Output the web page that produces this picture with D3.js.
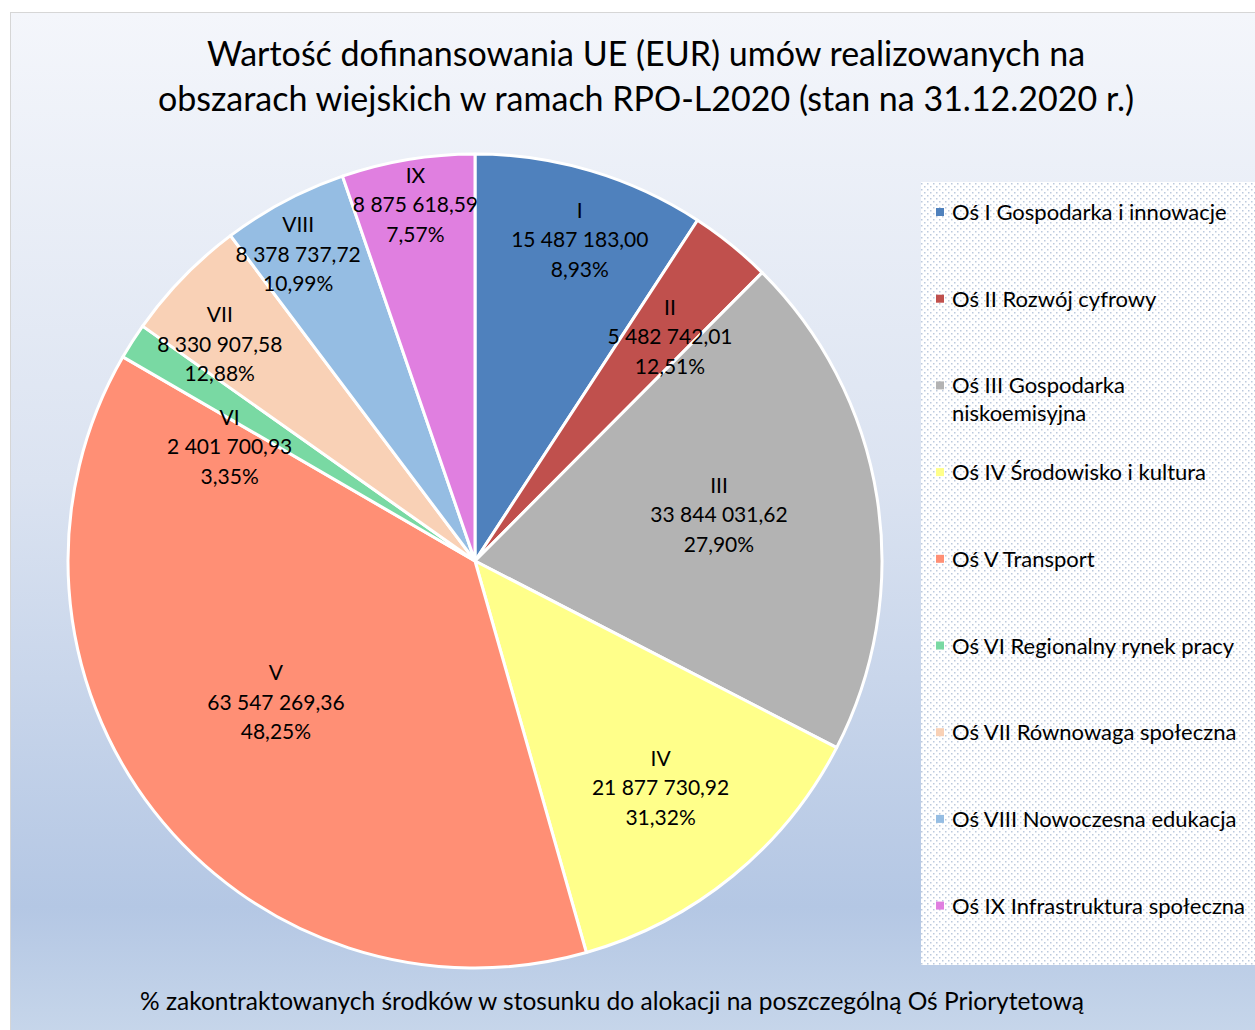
<!DOCTYPE html>
<html>
<head>
<meta charset="utf-8">
<style>
    body { margin: 0; background: #fff; }
    text { font-family: Lato, "Open Sans", sans-serif; fill: #000; }
</style>
</head>
<body>
<svg id="chart" width="1255" height="1030"></svg>
<script src="https://cdn.jsdelivr.net/npm/d3@7"></script>
<script>
// data
const axes = ["I", "II", "III", "IV", "V", "VI", "VII", "VIII", "IX"]
const values = [15487183.00, 5482742.01, 33844031.62, 21877730.92, 63547269.36, 2401700.93, 8330907.58, 8378737.72, 8875618.59]
const percents = ["8,93%", "12,51%", "27,90%", "31,32%", "48,25%", "3,35%", "12,88%", "10,99%", "7,57%"]
const legendNames = [
    ["Oś I Gospodarka i innowacje"],
    ["Oś II Rozwój cyfrowy"],
    ["Oś III Gospodarka", "niskoemisyjna"],
    ["Oś IV Środowisko i kultura"],
    ["Oś V Transport"],
    ["Oś VI Regionalny rynek pracy"],
    ["Oś VII Równowaga społeczna"],
    ["Oś VIII Nowoczesna edukacja"],
    ["Oś IX Infrastruktura społeczna"]
]
const colors = ["#4f81bd", "#c0504d", "#b3b3b3", "#ffff8a", "#ff8f75", "#79d9a3", "#f9d1b6", "#95bde3", "#e07fe0"]

// label placement (fraction of radius, angle shift in degrees) - mimics Excel best fit
const labelR = [0.83, 0.73, 0.61, 0.72, 0.60, 0.665, 0.823, 0.87, 0.887]
const labelShift = [1.5, 2, -1.8, 0, 2.5, -7.7, -3.8, -2, 0]

const plFormat = d3.formatLocale({ decimal: ",", thousands: " ", grouping: [3] }).format(",.2f")

const svg = d3.select("#chart")
const defs = svg.append("defs")

// background gradient
let grad = defs.append("linearGradient").attr("id", "bg").attr("x1", 0).attr("y1", 0).attr("x2", 0).attr("y2", 1)
grad.append("stop").attr("offset", "0%").attr("stop-color", "#f4f6fb")
grad.append("stop").attr("offset", "45%").attr("stop-color", "#dbe3f1")
grad.append("stop").attr("offset", "86%").attr("stop-color", "#b4c7e4")
grad.append("stop").attr("offset", "100%").attr("stop-color", "#c9d8eb")

// dotted legend pattern
let pat = defs.append("pattern").attr("id", "dots").attr("patternUnits", "userSpaceOnUse")
    .attr("width", 6).attr("height", 6)
pat.append("rect").attr("width", 6).attr("height", 6).attr("fill", "#ffffff")
pat.append("rect").attr("x", 0).attr("y", 0).attr("width", 1.5).attr("height", 1.5).attr("fill", "#bccade")
pat.append("rect").attr("x", 3).attr("y", 3).attr("width", 1.5).attr("height", 1.5).attr("fill", "#bccade")

svg.append("rect")
    .attr("x", 10.5).attr("y", 12.5).attr("width", 1260).attr("height", 1040)
    .attr("fill", "url(#bg)").attr("stroke", "#d6d6d6")

// title
const titleLines = ["Wartość dofinansowania UE (EUR) umów realizowanych na",
    "obszarach wiejskich w ramach RPO-L2020 (stan na 31.12.2020 r.)"]
svg.append("text")
    .attr("x", 646).attr("y", 66)
    .attr("text-anchor", "middle")
    .style("font-size", "34px")
    .selectAll("tspan").data(titleLines).join("tspan")
    .attr("x", 646).attr("dy", (d, i) => i ? 45 : 0)
    .text(d => d)

// pie
const R = 407
const cx = 475, cy = 561
const pie = d3.pie().sort(null).value(d => d)
const arcs = pie(values)
const arc = d3.arc().innerRadius(0).outerRadius(R)

let g = svg.append("g").attr("transform", `translate(${cx},${cy})`)
g.selectAll("path").data(arcs).join("path")
    .attr("d", arc)
    .attr("fill", (d, i) => colors[i])
    .attr("stroke", "#fff")
    .attr("stroke-width", 3)
    .attr("stroke-linejoin", "round")

// data labels
let labels = g.selectAll("text.lbl").data(arcs).join("text")
    .attr("class", "lbl")
    .attr("text-anchor", "middle")
    .style("font-size", "21px")
    .attr("transform", (d, i) => {
        let a = (d.startAngle + d.endAngle) / 2 + labelShift[i] * Math.PI / 180
        let r = R * labelR[i]
        return `translate(${r * Math.sin(a)},${-r * Math.cos(a)})`
    })
labels.each(function (d, i) {
    let lines = [axes[i], plFormat(values[i]), percents[i]]
    d3.select(this).selectAll("tspan").data(lines).join("tspan")
        .attr("x", 0)
        .attr("y", (t, k) => (k - 1) * 29.5 + 7.5)
        .text(t => t)
})

// legend
svg.append("rect")
    .attr("x", 921).attr("y", 182).attr("width", 340).attr("height", 783)
    .attr("fill", "url(#dots)")

let leg = svg.append("g").selectAll("g").data(legendNames).join("g")
    .attr("transform", (d, i) => `translate(936,${212 + i * 86.7})`)
leg.append("rect")
    .attr("x", 0).attr("y", -4).attr("width", 8).attr("height", 8)
    .attr("fill", (d, i) => colors[i])
leg.append("text")
    .style("font-size", "22px")
    .selectAll("tspan").data(d => d).join("tspan")
    .attr("x", 16).attr("y", (t, k) => k * 28 + 8)
    .text(t => t)

// bottom caption
svg.append("text")
    .attr("x", 612).attr("y", 1010)
    .attr("text-anchor", "middle")
    .style("font-size", "24.5px")
    .text("% zakontraktowanych środków w stosunku do alokacji na poszczególną Oś Priorytetową")
</script>
</body>
</html>
